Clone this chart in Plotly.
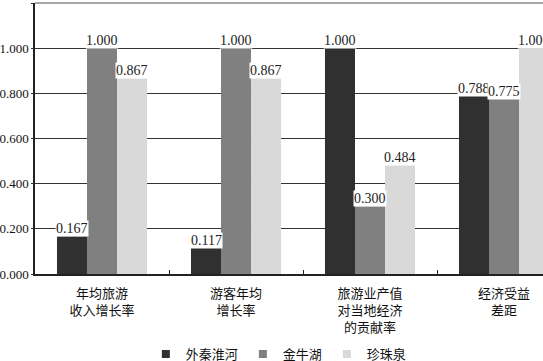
import plotly.graph_objects as go

categories = ["年均旅游<br>收入增长率", "游客年均<br>增长率", "旅游业产值<br>对当地经济<br>的贡献率", "经济受益<br>差距"]
series_names = ["外秦淮河", "金牛湖", "珍珠泉"]
wai_qinhuai = [0.167, 0.117, 1.000, 0.788]
jinniu_lake = [1.000, 1.000, 0.300, 0.775]
zhenzhu_spring = [0.867, 0.867, 0.484, 1.000]
y_ticks = [0.0, 0.2, 0.4, 0.6, 0.8, 1.0, 1.2]

series_values = [wai_qinhuai, jinniu_lake, zhenzhu_spring]
colors = ["#303030", "#808080", "#d9d9d9"]

serif = "'Liberation Serif', 'Times New Roman', serif"
cjk = "'Noto Sans CJK SC', sans-serif"

fig = go.Figure()
for name, vals, col in zip(series_names, series_values, colors):
    fig.add_trace(go.Bar(
        x=categories, y=vals, name=name, showlegend=False,
        marker=dict(color=col, line=dict(width=0)),
    ))
# legend entries with small square keys
for name, col in zip(series_names, colors):
    fig.add_trace(go.Scatter(
        x=[None], y=[None], mode="markers", name=name,
        marker=dict(symbol="square", size=8, color=col, line=dict(width=0)),
    ))

annotations = []
for i, vals in enumerate(series_values):
    for cat, v in zip(categories, vals):
        annotations.append(dict(
            x=cat, y=v, xref="x", yref="y",
            text=f"{v:.3f}", showarrow=False,
            xshift=(i - 1) * 30, yanchor="bottom", yshift=-1,
            bgcolor="white", borderpad=0,
            font=dict(family=serif, size=14, color="#222"),
        ))

fig.update_layout(
    width=543, height=361,
    margin=dict(l=35, r=0, t=3, b=87, autoexpand=False),
    paper_bgcolor="white", plot_bgcolor="white",
    barmode="group", bargap=0.328, bargroupgap=0,
    showlegend=True,
    legend=dict(orientation="h", x=0.48, xanchor="center", y=-0.295, yanchor="middle",
                font=dict(family=cjk, size=13, color="#111"),
                itemwidth=30, tracegroupgap=0),
    annotations=annotations,
    shapes=[dict(type="line", xref="paper", yref="paper", x0=0, x1=1, y0=1, y1=1,
                 line=dict(color="#8a8a8a", width=1.5), layer="above")],
)
fig.update_xaxes(
    range=[-0.5, 3.291], automargin=False,
    showline=True, linecolor="#222", linewidth=1.5,
    ticks="inside", ticklen=4, tickcolor="#222", tickson="boundaries",
    tickfont=dict(family=cjk, size=13, color="#111"),
    ticklabelstandoff=7,
    showgrid=False,
)
fig.update_yaxes(
    range=[0, 1.2], tickvals=y_ticks, tickformat=".3f", automargin=False,
    showline=True, linecolor="#222", linewidth=1.5,
    showgrid=True, gridcolor="#333", gridwidth=1,
    zeroline=False,
    ticks="outside", ticklen=2, tickcolor="#333",
    tickfont=dict(family=serif, size=13, color="#111"),
)

fig.write_html("out.html", config={"displayModeBar": False},
               post_script="document.body.style.margin='0';document.body.style.overflow='hidden';")
